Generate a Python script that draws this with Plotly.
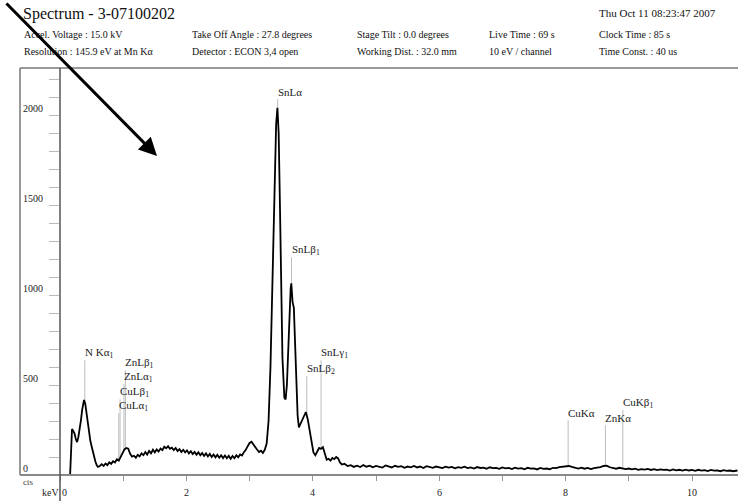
import numpy as np
import plotly.graph_objects as go

# ---------------- data ----------------
energy_kev = [
    0.16, 0.18, 0.19, 0.21, 0.23, 0.25, 0.27, 0.29, 0.31, 0.33, 0.35, 0.37, 0.38, 0.40, 0.42, 0.44,
    0.46, 0.48, 0.50, 0.52, 0.54, 0.56, 0.58, 0.60, 0.63, 0.66, 0.69, 0.72, 0.75, 0.78, 0.81, 0.84,
    0.87, 0.90, 0.93, 0.96, 0.99, 1.02, 1.05, 1.08, 1.11, 1.14, 1.17, 1.20, 1.23, 1.26, 1.29, 1.32,
    1.35, 1.38, 1.41, 1.44, 1.47, 1.50, 1.53, 1.56, 1.59, 1.62, 1.65, 1.68, 1.71, 1.74, 1.77, 1.80,
    1.83, 1.86, 1.89, 1.92, 1.95, 1.98, 2.01, 2.04, 2.07, 2.10, 2.13, 2.16, 2.19, 2.22, 2.25, 2.28,
    2.31, 2.34, 2.37, 2.40, 2.43, 2.46, 2.49, 2.52, 2.55, 2.58, 2.61, 2.64, 2.67, 2.70, 2.73, 2.76,
    2.79, 2.82, 2.85, 2.88, 2.91, 2.94, 2.97, 3.00, 3.03, 3.06, 3.09, 3.12, 3.15, 3.18, 3.21, 3.24,
    3.27, 3.30, 3.33, 3.36, 3.39, 3.42, 3.44, 3.46, 3.48, 3.50, 3.52, 3.55, 3.57, 3.59, 3.61, 3.63,
    3.65, 3.66, 3.68, 3.70, 3.72, 3.74, 3.76, 3.78, 3.80, 3.83, 3.86, 3.89, 3.92, 3.95, 3.98, 4.01,
    4.04, 4.07, 4.10, 4.13, 4.16, 4.19, 4.22, 4.25, 4.28, 4.31, 4.34, 4.37, 4.40, 4.43, 4.46, 4.50,
    4.55, 4.60, 4.65, 4.70, 4.75, 4.80, 4.85, 4.90, 4.95, 5.00, 5.05, 5.10, 5.15, 5.20, 5.25, 5.30,
    5.35, 5.40, 5.45, 5.50, 5.55, 5.60, 5.65, 5.70, 5.75, 5.80, 5.85, 5.90, 5.95, 6.00, 6.05, 6.10,
    6.15, 6.20, 6.25, 6.30, 6.35, 6.40, 6.45, 6.50, 6.55, 6.60, 6.65, 6.70, 6.75, 6.80, 6.85, 6.90,
    6.95, 7.00, 7.05, 7.10, 7.15, 7.20, 7.25, 7.30, 7.35, 7.40, 7.45, 7.50, 7.55, 7.60, 7.65, 7.70,
    7.75, 7.80, 7.85, 7.90, 7.95, 8.00, 8.05, 8.10, 8.15, 8.20, 8.25, 8.30, 8.35, 8.40, 8.45, 8.50,
    8.55, 8.60, 8.65, 8.70, 8.75, 8.80, 8.85, 8.90, 8.95, 9.00, 9.05, 9.10, 9.15, 9.20, 9.25, 9.30,
    9.35, 9.40, 9.45, 9.50, 9.55, 9.60, 9.65, 9.70, 9.75, 9.80, 9.85, 9.90, 9.95, 10.00, 10.05, 10.10,
    10.15, 10.20, 10.25, 10.30, 10.35, 10.40, 10.45, 10.50, 10.55, 10.60, 10.65, 10.72,
]
counts = [
    0, 180, 255, 245, 230, 200, 183, 210, 250, 300, 360, 410, 417, 395, 340, 270,
    215, 190, 160, 125, 100, 75, 55, 45, 50, 60, 50, 64, 55, 70, 61, 77,
    70, 87, 80, 102, 118, 142, 150, 146, 118, 102, 107, 96, 112, 103, 120, 110,
    127, 113, 134, 120, 140, 126, 142, 130, 147, 138, 157, 148, 160, 146, 152, 138,
    150, 133, 144, 128, 140, 126, 137, 120, 132, 116, 128, 113, 126, 110, 122, 106,
    120, 103, 117, 100, 114, 98, 112, 96, 110, 94, 108, 93, 107, 90, 106, 93,
    110, 98, 114, 108, 127, 140, 160, 178, 185, 170, 150, 140, 128, 135, 122, 140,
    175, 300, 600, 1050, 1550, 1950, 2040, 1900, 1500, 1000, 650, 430, 420, 500, 720, 930,
    1040, 1065, 960, 930, 750, 520, 330, 265, 280, 300, 330, 350, 310, 250, 180, 125,
    110, 135, 150, 145, 155, 120, 85, 90, 80, 95, 88, 100, 92, 70, 58, 62,
    50, 55, 45, 52, 44, 55, 46, 52, 43, 50, 46, 41, 53, 47, 42, 51,
    45, 49, 40, 47, 43, 50, 42, 47, 39, 49, 44, 40, 47, 43, 38, 46,
    41, 45, 37, 44, 40, 46, 38, 42, 36, 44, 39, 41, 35, 43, 38, 40,
    34, 42, 37, 39, 33, 41, 36, 38, 32, 40, 35, 37, 31, 39, 34, 36,
    32, 40, 38, 44, 46, 52, 50, 45, 39, 36, 41, 35, 39, 33, 38, 40,
    44, 50, 52, 43, 37, 35, 40, 38, 33, 36, 31, 35, 29, 33, 30, 34,
    28, 32, 27, 31, 28, 30, 25, 31, 26, 29, 24, 30, 25, 28, 23, 29,
    24, 27, 22, 28, 24, 26, 21, 27, 23, 25, 21, 25,
]

peak_names = ["N Kα<sub>1</sub>", "CuLα<sub>1</sub>", "CuLβ<sub>1</sub>", "ZnLα<sub>1</sub>",
              "ZnLβ<sub>1</sub>", "SnLα", "SnLβ<sub>1</sub>", "SnLβ<sub>2</sub>", "SnLγ<sub>1</sub>",
              "CuKα", "ZnKα", "CuKβ<sub>1</sub>"]
peak_energy = [0.392, 0.930, 0.950, 1.012, 1.034, 3.444, 3.663, 3.905, 4.131, 8.040, 8.630, 8.905]
peak_label_cts = [678, 383, 461, 544, 622, 2128, 1250, 589, 678, 344, 317, 400]

y_tick_labels = [0, 500, 1000, 1500, 2000]
x_tick_labels = [0, 2, 4, 6, 8, 10]

header_rows = [
    ["Accel. Voltage : 15.0 kV", "Take Off Angle : 27.8 degrees", "Stage Tilt : 0.0 degrees",
     "Live Time : 69 s", "Clock Time : 85 s"],
    ["Resolution : 145.9 eV at Mn Kα", "Detector : ECON 3,4 open", "Working Dist. : 32.0 mm",
     "10 eV / channel", "Time Const. : 40 us"],
]
title_text = "Spectrum - 3-07100202"
date_text = "Thu Oct 11 08:23:47 2007"

# ---------------- layout geometry ----------------
W, H = 738, 501
L, T, B = 60, 68, 475          # plot area edges in pixels
PW, PH = W - L, B - T
PX_PER_KEV = 63.2
PX_PER_CT = 0.18
X_MAX = PW / PX_PER_KEV
Y_MAX = PH / PX_PER_CT

def px(xp):
    return (xp - L) / PW

def py(yp):
    return (B - yp) / PH

SERIF = "Liberation Serif"
fig = go.Figure()
fig.add_trace(go.Scatter(x=energy_kev, y=counts, mode="lines",
                         line=dict(color="black", width=1.8), hoverinfo="skip",
                         showlegend=False))

shapes = []
annotations = []
grey = "#bdbdbd"
for name, e, lab in zip(peak_names, peak_energy, peak_label_cts):
    base = float(np.interp(e, energy_kev, counts))
    top = lab - 40
    shapes.append(dict(type="line", xref="x", yref="y", x0=e, x1=e, y0=base, y1=top,
                       line=dict(color=grey, width=1), layer="below"))
    annotations.append(dict(text=name, x=e, y=lab, xref="x", yref="y", showarrow=False,
                            xanchor="left", yanchor="middle", xshift=-2,
                            font=dict(family=SERIF, size=11, color="#222")))

# frame lines
shapes += [
    dict(type="line", xref="paper", yref="paper", x0=px(20), x1=px(20), y0=py(B), y1=py(T),
         line=dict(color="#777", width=1.5)),
    dict(type="line", xref="paper", yref="paper", x0=px(20), x1=1.0, y0=py(T), y1=py(T),
         line=dict(color="#777", width=1.5)),
    dict(type="line", xref="paper", yref="paper", x0=px(20), x1=1.0, y0=py(B), y1=py(B),
         line=dict(color="#888", width=2)),
    dict(type="line", xref="paper", yref="paper", x0=0, x1=0, y0=py(H), y1=py(T),
         line=dict(color="#555", width=1.5)),
]

for v in y_tick_labels:
    annotations.append(dict(text=str(v), x=px(21), y=v, xref="paper", yref="y", yshift=7,
                            showarrow=False, xanchor="left", yanchor="middle",
                            font=dict(family=SERIF, size=10, color="#222")))
for v in x_tick_labels:
    annotations.append(dict(text=str(v), x=v, y=py(492), xref="x", yref="paper",
                            showarrow=False, xanchor="left" if v == 0 else "center",
                            yanchor="middle", xshift=0 if v == 0 else 0,
                            font=dict(family=SERIF, size=10, color="#222")))
annotations.append(dict(text="cts", x=px(21), y=py(482), xref="paper", yref="paper",
                        showarrow=False, xanchor="left", yanchor="middle",
                        font=dict(family=SERIF, size=9, color="#444")))
annotations.append(dict(text="keV", x=px(40), y=py(492), xref="paper", yref="paper",
                        showarrow=False, xanchor="left", yanchor="middle",
                        font=dict(family=SERIF, size=10, color="#222")))

# header
annotations.append(dict(text=title_text, x=px(21), y=py(14), xref="paper", yref="paper",
                        showarrow=False, xanchor="left", yanchor="middle",
                        font=dict(family=SERIF, size=16, color="#111")))
annotations.append(dict(text=date_text, x=px(597), y=py(13), xref="paper", yref="paper",
                        showarrow=False, xanchor="left", yanchor="middle",
                        font=dict(family=SERIF, size=11, color="#111")))
col_x = [22, 190, 355, 487, 597]
row_y = [34, 52]
for r, row in enumerate(header_rows):
    for c, txt in enumerate(row):
        annotations.append(dict(text=txt, x=px(col_x[c]), y=py(row_y[r]), xref="paper",
                                yref="paper", showarrow=False, xanchor="left",
                                yanchor="middle",
                                font=dict(family=SERIF, size=10, color="#111")))

# big arrow
annotations.append(dict(text="", x=px(157), y=py(156), xref="paper", yref="paper",
                        ax=-152, ay=-154, showarrow=True, arrowhead=2, arrowsize=1.2,
                        arrowwidth=3, arrowcolor="black"))

fig.update_layout(
    width=W, height=H,
    margin=dict(l=L, r=0, t=T, b=H - B, pad=0),
    paper_bgcolor="white", plot_bgcolor="white",
    xaxis=dict(range=[0, X_MAX], showgrid=False, zeroline=False, showline=False,
               ticks="outside", ticklen=5, tickcolor="#999", tickwidth=1,
               tick0=0, dtick=1, showticklabels=False),
    yaxis=dict(range=[0, Y_MAX], showgrid=False, zeroline=False, showline=False,
               ticks="outside", ticklen=10, tickcolor="#bbb", tickwidth=1,
               tick0=0, dtick=100, showticklabels=False),
    shapes=shapes, annotations=annotations,
)

fig.write_html("out.html", config={"displayModeBar": False},
               post_script="document.body.style.margin='0';document.body.style.overflow='hidden';")
